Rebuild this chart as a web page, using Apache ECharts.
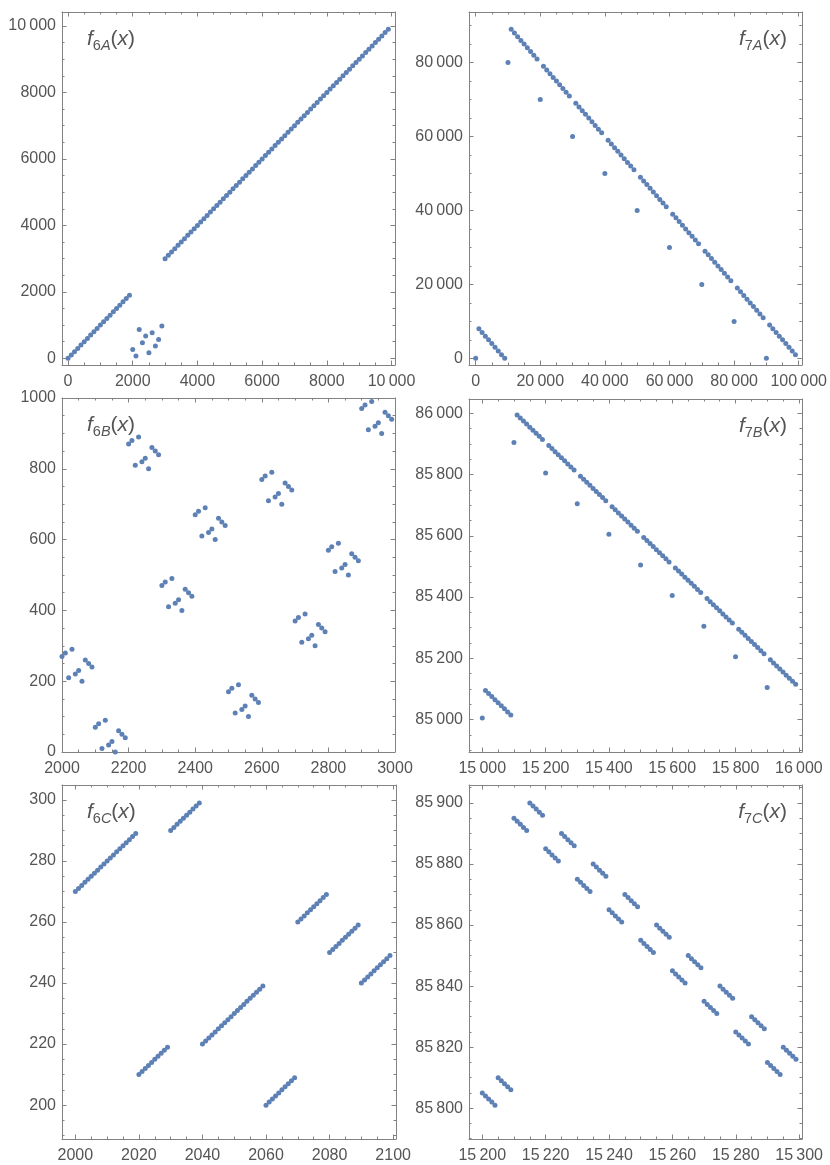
<!DOCTYPE html>
<html>
<head>
<meta charset="utf-8">
<script src="https://cdn.jsdelivr.net/npm/echarts@6/dist/echarts.min.js"></script>
<style>
html, body { margin: 0; padding: 0; background: #fff; }
#main { width: 830px; height: 1165px; }
</style>
</head>
<body>
<div id="main"></div>
<script>
// sample grids: [first x, step], 100 points each
var x6A = [0, 100];
var x7A = [0, 1000];
var x6B = [2000, 10];
var x7B = [15000, 10];
var x6C = [2000, 1];
var x7C = [15200, 1];

var y6A = [
    0, 100, 200, 300, 400, 500, 600, 700, 800, 900,
    1000, 1100, 1200, 1300, 1400, 1500, 1600, 1700, 1800, 1900,
    270, 70, 870, 470, 670, 170, 770, 370, 570, 970,
    3000, 3100, 3200, 3300, 3400, 3500, 3600, 3700, 3800, 3900,
    4000, 4100, 4200, 4300, 4400, 4500, 4600, 4700, 4800, 4900,
    5000, 5100, 5200, 5300, 5400, 5500, 5600, 5700, 5800, 5900,
    6000, 6100, 6200, 6300, 6400, 6500, 6600, 6700, 6800, 6900,
    7000, 7100, 7200, 7300, 7400, 7500, 7600, 7700, 7800, 7900,
    8000, 8100, 8200, 8300, 8400, 8500, 8600, 8700, 8800, 8900,
    9000, 9100, 9200, 9300, 9400, 9500, 9600, 9700, 9800, 9900
];
var y7A = [
    0, 8000, 7000, 6000, 5000, 4000, 3000, 2000, 1000, 0,
    80000, 89000, 88000, 87000, 86000, 85000, 84000, 83000, 82000, 81000,
    70000, 79000, 78000, 77000, 76000, 75000, 74000, 73000, 72000, 71000,
    60000, 69000, 68000, 67000, 66000, 65000, 64000, 63000, 62000, 61000,
    50000, 59000, 58000, 57000, 56000, 55000, 54000, 53000, 52000, 51000,
    40000, 49000, 48000, 47000, 46000, 45000, 44000, 43000, 42000, 41000,
    30000, 39000, 38000, 37000, 36000, 35000, 34000, 33000, 32000, 31000,
    20000, 29000, 28000, 27000, 26000, 25000, 24000, 23000, 22000, 21000,
    10000, 19000, 18000, 17000, 16000, 15000, 14000, 13000, 12000, 11000,
    0, 9000, 8000, 7000, 6000, 5000, 4000, 3000, 2000, 1000
];
var y6B = [
    270, 280, 210, 290, 220, 230, 200, 260, 250, 240,
    70, 80, 10, 90, 20, 30, 0, 60, 50, 40,
    870, 880, 810, 890, 820, 830, 800, 860, 850, 840,
    470, 480, 410, 490, 420, 430, 400, 460, 450, 440,
    670, 680, 610, 690, 620, 630, 600, 660, 650, 640,
    170, 180, 110, 190, 120, 130, 100, 160, 150, 140,
    770, 780, 710, 790, 720, 730, 700, 760, 750, 740,
    370, 380, 310, 390, 320, 330, 300, 360, 350, 340,
    570, 580, 510, 590, 520, 530, 500, 560, 550, 540,
    970, 980, 910, 990, 920, 930, 900, 960, 950, 940
];
var y7B = [
    85005, 85095, 85085, 85075, 85065, 85055, 85045, 85035, 85025, 85015,
    85905, 85995, 85985, 85975, 85965, 85955, 85945, 85935, 85925, 85915,
    85805, 85895, 85885, 85875, 85865, 85855, 85845, 85835, 85825, 85815,
    85705, 85795, 85785, 85775, 85765, 85755, 85745, 85735, 85725, 85715,
    85605, 85695, 85685, 85675, 85665, 85655, 85645, 85635, 85625, 85615,
    85505, 85595, 85585, 85575, 85565, 85555, 85545, 85535, 85525, 85515,
    85405, 85495, 85485, 85475, 85465, 85455, 85445, 85435, 85425, 85415,
    85305, 85395, 85385, 85375, 85365, 85355, 85345, 85335, 85325, 85315,
    85205, 85295, 85285, 85275, 85265, 85255, 85245, 85235, 85225, 85215,
    85105, 85195, 85185, 85175, 85165, 85155, 85145, 85135, 85125, 85115
];
var y6C = [
    270, 271, 272, 273, 274, 275, 276, 277, 278, 279,
    280, 281, 282, 283, 284, 285, 286, 287, 288, 289,
    210, 211, 212, 213, 214, 215, 216, 217, 218, 219,
    290, 291, 292, 293, 294, 295, 296, 297, 298, 299,
    220, 221, 222, 223, 224, 225, 226, 227, 228, 229,
    230, 231, 232, 233, 234, 235, 236, 237, 238, 239,
    200, 201, 202, 203, 204, 205, 206, 207, 208, 209,
    260, 261, 262, 263, 264, 265, 266, 267, 268, 269,
    250, 251, 252, 253, 254, 255, 256, 257, 258, 259,
    240, 241, 242, 243, 244, 245, 246, 247, 248, 249
];
var y7C = [
    85805, 85804, 85803, 85802, 85801, 85810, 85809, 85808, 85807, 85806,
    85895, 85894, 85893, 85892, 85891, 85900, 85899, 85898, 85897, 85896,
    85885, 85884, 85883, 85882, 85881, 85890, 85889, 85888, 85887, 85886,
    85875, 85874, 85873, 85872, 85871, 85880, 85879, 85878, 85877, 85876,
    85865, 85864, 85863, 85862, 85861, 85870, 85869, 85868, 85867, 85866,
    85855, 85854, 85853, 85852, 85851, 85860, 85859, 85858, 85857, 85856,
    85845, 85844, 85843, 85842, 85841, 85850, 85849, 85848, 85847, 85846,
    85835, 85834, 85833, 85832, 85831, 85840, 85839, 85838, 85837, 85836,
    85825, 85824, 85823, 85822, 85821, 85830, 85829, 85828, 85827, 85826,
    85815, 85814, 85813, 85812, 85811, 85820, 85819, 85818, 85817, 85816
];

// tick labels
var t6AX = [0, 2000, 4000, 6000, 8000, 10000];
var t6AY = [0, 2000, 4000, 6000, 8000, 10000];
var t7AX = [0, 20000, 40000, 60000, 80000, 100000];
var t7AY = [0, 20000, 40000, 60000, 80000];
var t6BX = [2000, 2200, 2400, 2600, 2800, 3000];
var t6BY = [0, 200, 400, 600, 800, 1000];
var t7BX = [15000, 15200, 15400, 15600, 15800, 16000];
var t7BY = [85000, 85200, 85400, 85600, 85800, 86000];
var t6CX = [2000, 2020, 2040, 2060, 2080, 2100];
var t6CY = [200, 220, 240, 260, 280, 300];
var t7CX = [15200, 15220, 15240, 15260, 15280, 15300];
var t7CY = [85800, 85820, 85840, 85860, 85880, 85900];

var FRAME = '#828282', TEXT = '#555555', DOT = '#5e81b5';
var FONT = '"Liberation Sans", Arial, sans-serif';

var panels = [
    {sub: ['6', 'A'], xs: x6A, ys: y6A, xt: t6AX, yt: t6AY, box: [62, 12, 333, 353], xr: [-186, 10106], yr: [-200, 10420], tx: 87, ty: 41, right: false},
    {sub: ['7', 'A'], xs: x7A, ys: y7A, xt: t7AX, yt: t7AY, box: [469, 12, 333, 353], xr: [-2060, 100960], yr: [-1800, 93690], tx: 787, ty: 41, right: true},
    {sub: ['6', 'B'], xs: x6B, ys: y6B, xt: t6BX, yt: t6BY, box: [62, 398, 333, 354], xr: [2000, 3000], yr: [0, 1000], tx: 87, ty: 427, right: false},
    {sub: ['7', 'B'], xs: x7B, ys: y7B, xt: t7BX, yt: t7BY, box: [469, 399, 333, 353], xr: [14958, 16010], yr: [84894, 86047], tx: 787, ty: 428, right: true},
    {sub: ['6', 'C'], xs: x6C, ys: y6C, xt: t6CX, yt: t6CY, box: [62, 785, 334, 354], xr: [1995.8, 2100.9], yr: [188.9, 304.9], tx: 87, ty: 814, right: false},
    {sub: ['7', 'C'], xs: x7C, ys: y7C, xt: t7CX, yt: t7CY, box: [469, 785, 333, 354], xr: [15195.8, 15300.9], yr: [85789.9, 85905.9], tx: 787, ty: 814, right: true}
];

function fmt(v) {
    var s = String(v);
    if (Math.abs(v) >= 10000) s = s.slice(0, -3) + '\u2009' + s.slice(-3);
    return s;
}

function minorsOf(ticks, min, max) {
    var step = (ticks[1] - ticks[0]) / 4, out = [];
    for (var v = Math.ceil(min / step) * step; v <= max; v += step) {
        if (ticks.indexOf(v) < 0) out.push(v);
    }
    return out;
}

function axis(grid, pos, range, ticks, len, labels, line, margin) {
    return {
        type: 'value', gridIndex: grid, position: pos, min: range[0], max: range[1],
        splitLine: {show: false},
        axisLine: {show: line, onZero: false, lineStyle: {color: FRAME, width: 1}},
        axisTick: {show: true, inside: true, length: len, customValues: ticks, lineStyle: {color: FRAME, width: 1}},
        axisLabel: labels ? {
            show: true, customValues: ticks, formatter: fmt, margin: margin,
            color: TEXT, fontSize: 16, fontFamily: FONT
        } : {show: false}
    };
}

var grids = [], xAxes = [], yAxes = [], series = [], graphics = [];

panels.forEach(function(p, g) {
    grids.push({left: p.box[0], top: p.box[1], width: p.box[2], height: p.box[3], containLabel: false});

    var xm = minorsOf(p.xt, p.xr[0], p.xr[1]);
    var ym = minorsOf(p.yt, p.yr[0], p.yr[1]);
    var xi = xAxes.length, yi = yAxes.length;

    // frame: labelled bottom/left, mirrored top/right, each with a minor-tick twin
    xAxes.push(axis(g, 'bottom', p.xr, p.xt, 4.5, true, true, 9));
    xAxes.push(axis(g, 'bottom', p.xr, xm, 2.5, false, false));
    xAxes.push(axis(g, 'top', p.xr, p.xt, 4.5, false, true));
    xAxes.push(axis(g, 'top', p.xr, xm, 2.5, false, false));
    yAxes.push(axis(g, 'left', p.yr, p.yt, 4.5, true, true, 6));
    yAxes.push(axis(g, 'left', p.yr, ym, 2.5, false, false));
    yAxes.push(axis(g, 'right', p.yr, p.yt, 4.5, false, true));
    yAxes.push(axis(g, 'right', p.yr, ym, 2.5, false, false));

    var pts = [];
    for (var i = 0; i < p.ys.length; i++) {
        pts.push([p.xs[0] + i * p.xs[1], p.ys[i]]);
    }
    series.push({
        type: 'scatter', xAxisIndex: xi, yAxisIndex: yi, data: pts,
        symbol: 'circle', symbolSize: 5, clip: true,
        itemStyle: {color: DOT, opacity: 1},
        emphasis: {disabled: true}
    });

    graphics.push({
        type: 'text', x: p.tx, y: p.ty - 12, z: 100,
        style: {
            text: '{i|f}{sn|' + p.sub[0] + '}{si|' + p.sub[1] + '}{n|(}{i|x}{n|)}',
            align: p.right ? 'right' : 'left',
            verticalAlign: 'top',
            rich: {
                i: {fontStyle: 'italic', fontSize: 21, fontFamily: FONT, fill: TEXT, lineHeight: 24, verticalAlign: 'top'},
                n: {fontSize: 21, fontFamily: FONT, fill: TEXT, lineHeight: 24, verticalAlign: 'top'},
                si: {fontStyle: 'italic', fontSize: 14.5, fontFamily: FONT, fill: TEXT, lineHeight: 14, verticalAlign: 'bottom'},
                sn: {fontSize: 14.5, fontFamily: FONT, fill: TEXT, lineHeight: 14, verticalAlign: 'bottom'}
            }
        }
    });
});

var chart = echarts.init(document.getElementById('main'), null, {renderer: 'canvas'});
chart.setOption({
    animation: false,
    backgroundColor: '#ffffff',
    grid: grids,
    xAxis: xAxes,
    yAxis: yAxes,
    series: series,
    graphic: graphics
});
</script>
</body>
</html>
